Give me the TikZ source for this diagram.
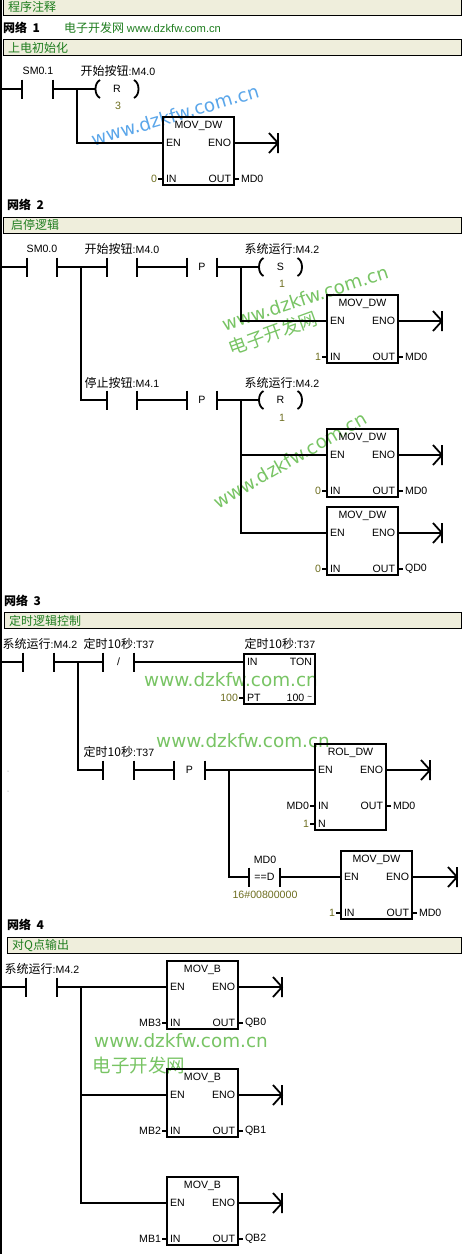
\documentclass[tikz,border=0pt]{standalone}
\usepackage{fontspec}
\usetikzlibrary{calc}
\setmainfont{Liberation Sans}
\newfontfamily\cjk{Noto Sans CJK SC}
\newfontfamily\wmfont{DejaVu Sans}
\newcommand\zh[1]{{\cjk\fontsize{12}{12}\selectfont #1}}
\definecolor{barfill}{HTML}{EFEEDC}
\definecolor{bargreen}{HTML}{1E7D1E}
\definecolor{constc}{HTML}{6E6E20}
\definecolor{wmgreen}{HTML}{78C464}
\definecolor{wmblue}{HTML}{5AA6EA}
\tikzset{
  wire/.style={line width=1.8pt,line cap=butt},
  txt/.style={font=\fontsize{10.6}{11}\selectfont,inner sep=0pt,outer sep=0pt,text=black},
  constv/.style={txt,text=constc},
  contactn/.style={txt,minimum width=30.5pt,minimum height=19pt},
  coiln/.style={txt,minimum width=43pt,minimum height=18pt},
  fb/.style={draw=black,line width=1.8pt,inner sep=0pt,outer sep=0pt,anchor=north west},
  bar/.style={draw=black,line width=0.9pt,fill=barfill,inner sep=0pt,outer sep=0pt,anchor=north west},
  bartext/.style={anchor=west,inner sep=0pt,text=bargreen,font=\cjk\fontsize{12}{12}\selectfont},
  nettext/.style={anchor=west,inner sep=0pt,font=\cjk\bfseries\fontsize{12}{12}\selectfont},
  wm/.style={inner sep=0pt,font=\wmfont\fontsize{18.4}{20}\selectfont,text=wmgreen},
  wmz/.style={inner sep=0pt,font=\cjk\fontsize{18.5}{20}\selectfont,text=wmgreen},
}
\newcount\labn
\newcommand\tx[3][txt]{\global\advance\labn by 1 \node[#1] (lab\the\labn) at (#2) {#3};}
% contact: name, x-centre, y, inner text
\newcommand\contact[4]{%
  \node[contactn] (#1) at (#2,#3) {#4};
  \draw[wire] (#1.north west) -- (#1.south west) (#1.north east) -- (#1.south east);}
% coil: name, centre x, y, letter
\newcommand\coil[4]{%
  \node[coiln] (#1) at (#2,#3) {#4};
  \draw[wire] ($(#1.west)+(4.5,-9)$) .. controls ($(#1.west)+(-1.5,-6)$) and ($(#1.west)+(-1.5,6)$) .. ($(#1.west)+(4.5,9)$);
  \draw[wire] ($(#1.east)+(-4.5,-9)$) .. controls ($(#1.east)+(1.5,-6)$) and ($(#1.east)+(1.5,6)$) .. ($(#1.east)+(-4.5,9)$);}
% end of rung: name, x, y
\newcommand\rungend[3]{%
  \coordinate (#1) at (#2,#3);
  \draw[wire] ($(#1)+(0,-10)$) -- ($(#1)+(0,10)$) ($(#1)+(-9,-10)$) -- (#1) -- ($(#1)+(-9,10)$);}
% block: name, x, ytop, h, title
\newcommand\blk[5]{%
  \node[fb,minimum width=71pt,minimum height=#4pt] (#1) at (#2,#3) {};
  \tx{$(#1.north)+(0,8.5)$}{#5}}
\newcommand\inL[3]{\tx[txt,anchor=west]{$(#1.north west)+(3,#2)$}{#3}}
\newcommand\inR[3]{\tx[txt,anchor=east]{$(#1.north east)+(-3,#2)$}{#3}}
% input stub: box, dy, pin, style, value
\newcommand\inp[5]{%
  \coordinate (#1-s#2) at ($(#1.north west)+(-5,#2)$);
  \draw[wire] (#1-s#2) -- ($(#1.north west)+(0,#2)$);
  \inL{#1}{#2}{#3}
  \tx[#4,anchor=east]{$(#1-s#2)+(-1,0)$}{#5}}
\newcommand\outp[4]{%
  \coordinate (#1-o#2) at ($(#1.north east)+(5,#2)$);
  \draw[wire] (#1-o#2) -- ($(#1.north east)+(0,#2)$);
  \inR{#1}{#2}{#3}
  \tx[txt,anchor=west]{$(#1-o#2)+(2,0)$}{#4}}
% standard move box: name,x,ytop,title,invalue style,in,out
\newcommand\mov[7]{%
  \blk{#1}{#2}{#3}{68}{#4}
  \inL{#1}{26}{EN}\inR{#1}{26}{ENO}
  \coordinate (#1-en) at ($(#1.north west)+(0,26)$);
  \coordinate (#1-eno) at ($(#1.north east)+(0,26)$);
  \inp{#1}{62}{IN}{#5}{#6}
  \outp{#1}{62}{OUT}{#7}}
\begin{document}
\begin{tikzpicture}[x=1pt,y=-1pt]
\useasboundingbox (0,0) rectangle (472,1254);
\fill[white] (0,0) rectangle (472,1254);
% watermarks
\node[wm,text=wmblue,rotate=16.5] (w1) at (175,115) {www.dzkfw.com.cn};
\node[wm,rotate=18] (w2) at (305,298) {www.dzkfw.com.cn};
\node[wmz,rotate=20] (w2z) at (273,333) {电子开发网};
\node[wm,rotate=30] (w3) at (290,460) {www.dzkfw.com.cn};
\node[wm] (w4) at (231,680) {www.dzkfw.com.cn};
\node[wm] (w5) at (243,741) {www.dzkfw.com.cn};
\node[wm] (w6) at (181,1041) {www.dzkfw.com.cn};
\node[wmz,anchor=center] (w6z) at (139,1065) {电子开发网};
% left rail
\coordinate (railT) at (1,0); \coordinate (railB) at (1,1254);
\draw[line width=2pt] (railT) -- (railB);
% title bars
\node[bar,minimum width=458pt,minimum height=18pt] (b0) at (3,-3) {};
\node[bartext] (b0t) at (8,7) {程序注释};
\node[nettext] (n1) at (3,28) {网络~ 1};
\node[anchor=west,inner sep=0pt,text=bargreen] (n1g) at (64,28) {\zh{电子开发网} {\fontsize{11.2}{11}\selectfont www.dzkfw.com.cn}};
\node[bar,minimum width=458pt,minimum height=15.5pt] (b1) at (3,39.5) {};
\node[bartext] (b1t) at (8,48) {上电初始化};
\node[nettext] (n2) at (7,205) {网络~ 2};
\node[bar,minimum width=458pt,minimum height=16pt] (b2) at (3,217) {};
\node[bartext] (b2t) at (11,225) {启停逻辑};
\node[nettext] (n3) at (4,601) {网络~ 3};
\node[bar,minimum width=457pt,minimum height=16pt] (b3) at (4,612) {};
\node[bartext] (b3t) at (9,620.5) {定时逻辑控制};
\node[nettext] (n4) at (7,925) {网络~ 4};
\node[bar,minimum width=454pt,minimum height=16pt] (b4) at (7,937) {};
\node[bartext] (b4t) at (12,946) {对Q点输出};
% ---------- network 1
\coordinate (p1) at (1,89);
\contact{c11}{37.5}{89}{}
\tx{38,71}{SM0.1}
\coil{k11}{117}{89}{R}
\tx{118,71}{\zh{开始按钮}:M4.0}
\tx[constv]{118,106}{3}
\mov{m11}{163}{117}{MOV\_DW}{constv}{0}{MD0}
\rungend{e11}{278}{143}
\coordinate (j11) at (77,89);
\draw[wire] (p1) -- (c11.west) (c11.east) -- (k11.west);
\draw[wire] (j11) |- (m11-en);
\draw[wire] (m11-eno) -- (e11);
% ---------- network 2
\coordinate (p2) at (1,267);
\contact{c21}{42}{267}{}
\tx{42,249}{SM0.0}
\contact{c22}{122}{267}{}
\tx{122,249}{\zh{开始按钮}:M4.0}
\contact{c23}{202}{267}{P}
\coil{k21}{280.5}{267}{S}
\tx{282,249}{\zh{系统运行}:M4.2}
\tx[constv]{282,284}{1}
\mov{m21}{327}{295}{MOV\_DW}{constv}{1}{MD0}
\rungend{e21}{442}{321}
\contact{c24}{122}{400}{}
\tx{122,383}{\zh{停止按钮}:M4.1}
\contact{c25}{202}{400}{P}
\coil{k22}{280.5}{400}{R}
\tx{282,383}{\zh{系统运行}:M4.2}
\tx[constv]{282,418}{1}
\mov{m22}{327}{429}{MOV\_DW}{constv}{0}{MD0}
\rungend{e22}{442}{455}
\mov{m23}{327}{507}{MOV\_DW}{constv}{0}{QD0}
\rungend{e23}{442}{533}
\coordinate (j21) at (81,267);
\coordinate (j22) at (241,267);
\coordinate (j23) at (241,400);
\draw[wire] (p2) -- (c21.west) (c21.east) -- (c22.west) (c22.east) -- (c23.west) (c23.east) -- (k21.west);
\draw[wire] (j21) |- (c24.west);
\draw[wire] (c24.east) -- (c25.west) (c25.east) -- (k22.west);
\draw[wire] (j22) |- (m21-en);
\draw[wire] (j23) |- (m23-en);
\draw[wire] (j23 |- m22-en) -- (m22-en);
\draw[wire] (m21-eno) -- (e21) (m22-eno) -- (e22) (m23-eno) -- (e23);
% ---------- network 3
\coordinate (p3) at (1,662);
\contact{c31}{38.5}{662}{}
\tx{40,644}{\zh{系统运行}:M4.2}
\contact{c32}{118.5}{662}{/}
\tx{119,644}{\zh{定时10秒}:T37}
\node[fb,minimum width=71pt,minimum height=50pt] (t31) at (244,654) {};
\coordinate (t31-en) at ($(t31.north west)+(0,8)$);
\inL{t31}{8}{IN}\inR{t31}{8}{TON}
\inp{t31}{44}{PT}{constv}{100}
\inR{t31}{44}{100 \raisebox{2pt}{\fontsize{8}{8}\selectfont\char"7E}}
\tx{280,644}{\zh{定时10秒}:T37}
\contact{c33}{118.5}{770}{}
\tx{119,752}{\zh{定时10秒}:T37}
\contact{c34}{189.5}{770}{P}
\blk{m31}{315}{744}{86}{ROL\_DW}
\inL{m31}{26}{EN}\inR{m31}{26}{ENO}
\coordinate (m31-en) at ($(m31.north west)+(0,26)$);
\coordinate (m31-eno) at ($(m31.north east)+(0,26)$);
\inp{m31}{62}{IN}{txt}{MD0}
\outp{m31}{62}{OUT}{MD0}
\inp{m31}{80}{N}{constv}{1}
\rungend{e31}{430}{770}
\contact{c35}{264.5}{877}{==D}
\tx{265,860}{MD0}
\tx[constv]{265,895}{16\#00800000}
\mov{m32}{341}{851}{MOV\_DW}{constv}{1}{MD0}
\rungend{e32}{457}{877}
\coordinate (j31) at (78,662);
\coordinate (j32) at (229,770);
\draw[wire] (p3) -- (c31.west) (c31.east) -- (c32.west) (c32.east) -- (t31-en);
\draw[wire] (j31) |- (c33.west);
\draw[wire] (c33.east) -- (c34.west) (c34.east) -- (m31-en);
\draw[wire] (j32) |- (c35.west);
\draw[wire] (c35.east) -- (m32-en);
\draw[wire] (m31-eno) -- (e31) (m32-eno) -- (e32);
% ---------- network 4
\coordinate (p4) at (1,987);
\contact{c41}{41.5}{987}{}
\tx{42,969}{\zh{系统运行}:M4.2}
\mov{m41}{167}{961}{MOV\_B}{txt}{MB3}{QB0}
\mov{m42}{167}{1069}{MOV\_B}{txt}{MB2}{QB1}
\mov{m43}{167}{1177}{MOV\_B}{txt}{MB1}{QB2}
\rungend{e41}{282}{987}
\rungend{e42}{282}{1095}
\rungend{e43}{282}{1203}
\coordinate (j41) at (81,987);
\draw[wire] (p4) -- (c41.west) (c41.east) -- (m41-en);
\draw[wire] (j41) |- (m43-en);
\draw[wire] (j41 |- m42-en) -- (m42-en);
\draw[wire] (m41-eno) -- (e41) (m42-eno) -- (e42) (m43-eno) -- (e43);
% stray dots
\fill[gray] (8,771) circle (0.5) (8,791) circle (0.5);
\end{tikzpicture}
\end{document}
